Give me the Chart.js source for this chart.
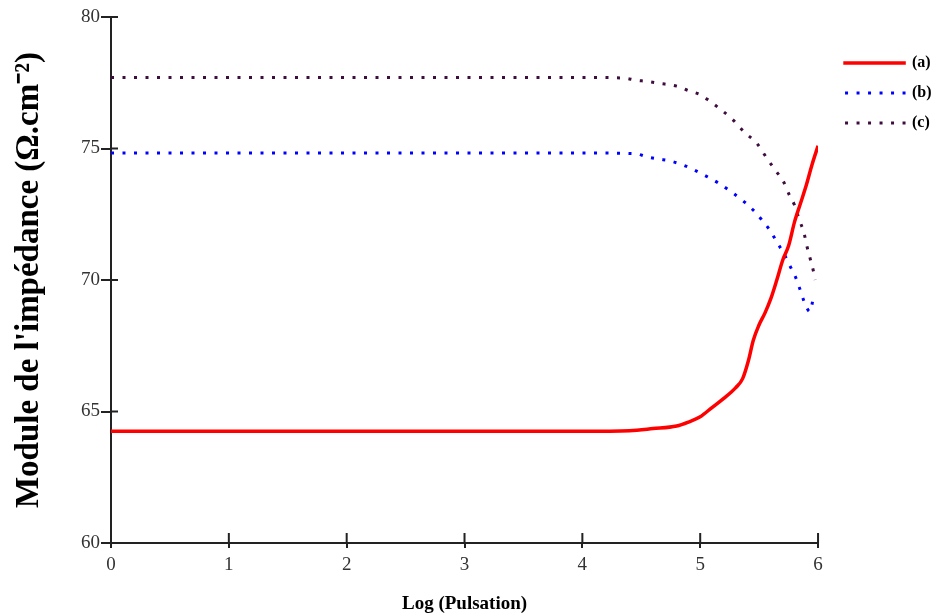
<!DOCTYPE html>
<html>
<head>
<meta charset="utf-8">
<style>
  html, body { margin: 0; padding: 0; background: #fff; }
  #wrap { width: 942px; height: 615px; position: relative; }
</style>
</head>
<body>
<div id="wrap"><canvas id="chart" width="942" height="615"></canvas></div>

<script src="https://cdn.jsdelivr.net/npm/chart.js"></script>
<script>
  // Log (Pulsation) on x, impedance modulus on y
  const aX = [0, 1, 2, 3, 4, 4.4, 4.6, 4.8, 4.9, 5.0, 5.1, 5.2, 5.3, 5.36, 5.41, 5.45, 5.5, 5.55, 5.6, 5.65, 5.7, 5.75, 5.8, 5.85, 5.9, 5.95, 6.0];
  const aY = [64.25, 64.25, 64.25, 64.25, 64.25, 64.27, 64.35, 64.45, 64.6, 64.8, 65.15, 65.5, 65.9, 66.25, 66.95, 67.7, 68.3, 68.75, 69.3, 70.0, 70.75, 71.3, 72.2, 72.9, 73.6, 74.4, 75.1];

  const bX = [0, 1, 2, 3, 4, 4.45, 4.55, 4.65, 4.75, 4.85, 4.95, 5.05, 5.15, 5.28, 5.38, 5.45, 5.52, 5.59, 5.65, 5.71, 5.76, 5.81, 5.85, 5.88, 5.91, 5.93, 5.95, 5.965];
  const bY = [74.83, 74.83, 74.83, 74.83, 74.83, 74.8, 74.68, 74.6, 74.52, 74.38, 74.18, 73.95, 73.7, 73.3, 72.95, 72.66, 72.3, 71.9, 71.45, 71.0, 70.55, 70.1, 69.6, 69.2, 68.9, 68.8, 69.1, 69.5];

  const cX = [0, 1, 2, 3, 4, 4.35, 4.45, 4.55, 4.65, 4.8, 4.9, 5.0, 5.06, 5.17, 5.28, 5.38, 5.48, 5.57, 5.65, 5.7, 5.76, 5.8, 5.84, 5.88, 5.91, 5.94, 5.96, 5.975];
  const cY = [77.7, 77.7, 77.7, 77.7, 77.7, 77.68, 77.6, 77.55, 77.48, 77.37, 77.2, 77.05, 76.87, 76.5, 76.08, 75.6, 75.2, 74.6, 74.1, 73.8, 73.2, 72.85, 72.3, 71.8, 71.2, 70.7, 70.35, 70.0];

  const seriesLabels = ['(a)', '(b)', '(c)'];
  const xTicks = [0, 1, 2, 3, 4, 5, 6];
  const yTicks = [60, 65, 70, 75, 80];

  const axisColor = '#222';
  const toPoints = (xs, ys) => xs.map((x, i) => ({ x, y: ys[i] }));

  // tick marks also poke into the plot area
  const innerTicks = {
    id: 'innerTicks',
    afterDraw(chart) {
      const ctx = chart.ctx;
      const xs = chart.scales.x, ys = chart.scales.y;
      ctx.save();
      ctx.strokeStyle = axisColor;
      ctx.lineWidth = 2;
      ctx.beginPath();
      xs.ticks.forEach(t => {
        const px = xs.getPixelForValue(t.value);
        ctx.moveTo(px, xs.top);
        ctx.lineTo(px, xs.top - 10);
      });
      ys.ticks.forEach(t => {
        const py = ys.getPixelForValue(t.value);
        ctx.moveTo(ys.right, py);
        ctx.lineTo(ys.right + 7, py);
      });
      ctx.stroke();
      ctx.restore();
    }
  };

  // nudge the legend away from the plot
  const legendShift = {
    id: 'legendShift',
    afterLayout(chart) {
      const lg = chart.legend;
      lg.left += 13; lg.right += 13;
      lg.top += 24; lg.bottom += 24;
    }
  };

  // thin dashed/solid sample, 59px so the dash pattern lines up on both edges of the flat box
  const legendLabels = {
    boxWidth: 59,
    boxHeight: 0.001,
    padding: 14,
    color: '#000',
    font: { family: 'Liberation Serif', size: 16, weight: 'bold' }
  };

  const chart = new Chart(document.getElementById('chart'), {
    type: 'line',
    data: {
      datasets: [
        {
          label: seriesLabels[0],
          data: toPoints(aX, aY),
          borderColor: '#ff0000',
          backgroundColor: '#ff0000',
          borderWidth: 3.5,
          pointRadius: 0,
          cubicInterpolationMode: 'monotone'
        },
        {
          label: seriesLabels[1],
          data: toPoints(bX, bY),
          borderColor: '#0000ff',
          backgroundColor: '#0000ff',
          borderWidth: 3,
          borderDash: [3, 8.5],
          pointRadius: 0,
          cubicInterpolationMode: 'monotone'
        },
        {
          label: seriesLabels[2],
          data: toPoints(cX, cY),
          borderColor: '#3d0d3d',
          backgroundColor: '#3d0d3d',
          borderWidth: 3,
          borderDash: [3, 8.5],
          pointRadius: 0,
          cubicInterpolationMode: 'monotone'
        }
      ]
    },
    options: {
      responsive: false,
      animation: false,
      layout: { padding: { top: 17, right: 13.4, bottom: 0, left: 0 } },
      plugins: {
        tooltip: { enabled: false },
        legend: {
          position: 'right',
          align: 'start',
          labels: legendLabels
        }
      },
      scales: {
        x: {
          type: 'linear',
          min: 0,
          max: 6,
          afterBuildTicks: s => { s.ticks = xTicks.map(v => ({ value: v })); },
          afterFit: s => { s.height = 72; },
          border: { color: axisColor, width: 2 },
          grid: { drawOnChartArea: false, tickLength: 5, color: axisColor, lineWidth: 2 },
          ticks: {
            padding: 6,
            color: '#333',
            font: { family: 'Liberation Sans Narrow', size: 19 }
          },
          title: {
            display: true,
            text: 'Log (Pulsation)',
            color: '#000',
            padding: { top: 0, bottom: 0 },
            font: { family: 'Liberation Serif', size: 19, weight: 'bold' }
          }
        },
        y: {
          min: 60,
          max: 80,
          afterBuildTicks: s => { s.ticks = yTicks.map(v => ({ value: v })); },
          afterFit: s => { s.width = 111; },
          border: { color: axisColor, width: 2 },
          grid: { drawOnChartArea: false, tickLength: 10, color: axisColor, lineWidth: 2 },
          ticks: {
            padding: 1,
            color: '#333',
            font: { family: 'Liberation Sans Narrow', size: 19 }
          },
          title: {
            display: true,
            text: "Module de l'impédance (Ω.cm⁻²)",
            color: '#000',
            padding: { top: 10, bottom: 0 },
            font: { family: 'Liberation Serif', size: 33, weight: 'bold' }
          }
        }
      }
    },
    plugins: [innerTicks, legendShift]
  });
</script>
</body>
</html>
